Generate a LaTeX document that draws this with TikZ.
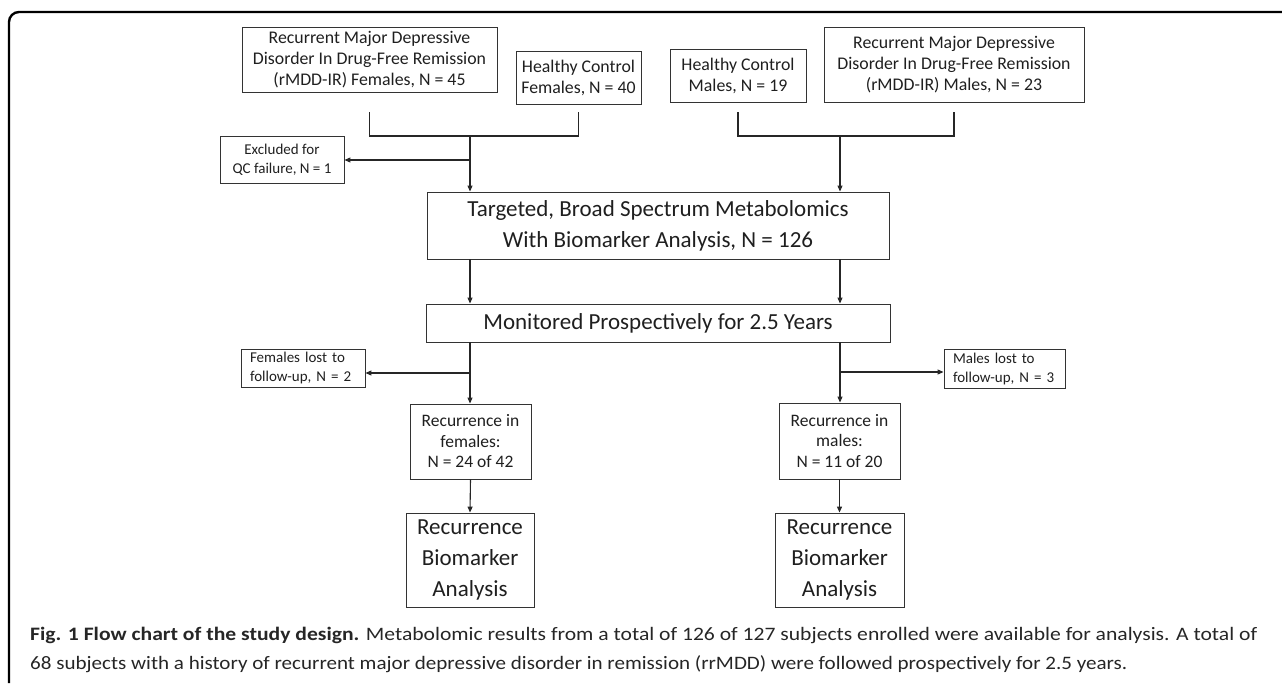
\documentclass[tikz,border=0pt]{standalone}
\usepackage{fontspec}
\usepackage{graphicx}
\setmainfont{Carlito}
\usetikzlibrary{arrows.meta}
\begin{document}
\begin{tikzpicture}[x=1pt,y=-1pt,
  box/.style={draw=black!80,line width=0.9pt,align=center,inner sep=0pt,text=black!88},
  mid/.style={box,font=\fontsize{17.8}{21}\selectfont},
  big/.style={box,font=\fontsize{23}{31}\selectfont},
  small/.style={box,font=\fontsize{15}{19}\selectfont},
  rec/.style={box,font=\fontsize{17.5}{20.5}\selectfont},
  conn/.style={draw=black!85,line width=1.1pt},
  arr/.style={conn,-{Triangle[length=6pt,width=5pt]}},
  captext/.style={anchor=west,inner sep=0pt,text=black!85,font=\fontsize{19}{21}\selectfont},
]
\useasboundingbox (0,0) rectangle (1282,685);
% frame
\draw[line width=2.4pt,rounded corners=10pt] (1290,12) -- (9,12) -- (9,683);

\node[mid,minimum width=255pt,minimum height=65pt] (rf) at (369.5,59.5)
  {Recurrent Major Depressive\\Disorder In Drug-Free Remission\\(rMDD-IR) Females, N = 45};
\node[mid,minimum width=125pt,minimum height=53pt] (hcf) at (578.5,77.5)
  {Healthy Control\\Females, N = 40};
\node[mid,minimum width=136pt,minimum height=53pt] (hcm) at (738,75.5)
  {Healthy Control\\Males, N = 19};
\node[mid,minimum width=260pt,minimum height=75pt] (rm) at (954,64.5)
  {Recurrent Major Depressive\\Disorder In Drug-Free Remission\\(rMDD-IR) Males, N = 23};

\node[small,minimum width=124pt,minimum height=47pt] (excl) at (282,159.5)
  {Excluded for\\QC failure, N = 1};
\node[big,minimum width=462pt,minimum height=67pt] (tgt) at (658,225.5)
  {Targeted, Broad Spectrum Metabolomics\\With Biomarker Analysis, N = 126};
\node[big,minimum width=464pt,minimum height=38pt] (mon) at (658,323)
  {Monitored Prospectively for 2.5 Years};
\node[small,align=left,text width=106pt,inner xsep=9pt,minimum width=124pt,minimum height=38pt] (flost) at (303,368)
  {Females lost to\\follow-up, N = 2};
\node[small,align=left,text width=103pt,inner xsep=9pt,minimum width=121pt,minimum height=39pt] (mlost) at (1004.5,369)
  {Males lost to\\follow-up, N = 3};
\node[rec,minimum width=121pt,minimum height=75pt] (recf) at (470.5,441.5)
  {Recurrence in\\females:\\N = 24 of 42};
\node[rec,minimum width=121pt,minimum height=76pt] (recm) at (839.5,441)
  {Recurrence in\\males:\\N = 11 of 20};
\node[big,minimum width=128pt,minimum height=94pt] (bf) at (470,560)
  {Recurrence\\Biomarker\\Analysis};
\node[big,minimum width=129pt,minimum height=94pt] (bm) at (839.5,560)
  {Recurrence\\Biomarker\\Analysis};

% junction points
\coordinate (fj) at (470,136);
\coordinate (mj) at (840,136);
\coordinate (fe) at (470,160);
\coordinate (fb) at (470,373);
\coordinate (mb) at (840,372);

% brackets
\draw[conn] (rf.south |- 0,112) -- (rf.south |- fj) -- (hcf.south |- fj) -- (hcf.south |- 0,112);
\draw[conn] (hcm.south |- 0,112) -- (hcm.south |- mj) -- (rm.south |- mj) -- (rm.south |- 0,112);
\draw[arr] (fj) -- (fj |- tgt.north);
\draw[arr] (mj) -- (mj |- tgt.north);
\draw[arr] (fe) -- (excl.east |- fe);
\draw[arr] (tgt.south -| fj) -- (mon.north -| fj);
\draw[arr] (tgt.south -| mj) -- (mon.north -| mj);
\draw[arr] (mon.south -| fj) -- (recf.north -| fj);
\draw[arr] (mon.south -| mj) -- (recm.north -| mj);
\draw[arr] (fb) -- (flost.east |- fb);
\draw[arr] (mb) -- (mlost.west |- mb);
\draw[arr] (recf.south) -- (bf.north);
\draw[arr] (recm.south) -- (bm.north);

% caption
\node[captext] (cap1) at (30,635)
  {\resizebox{1227pt}{\height}{\textbf{Fig. 1 Flow chart of the study design.} Metabolomic results from a total of 126 of 127 subjects enrolled were available for analysis. A total of}};
\node[captext] (cap2) at (30,664)
  {\resizebox{1097pt}{\height}{68 subjects with a history of recurrent major depressive disorder in remission (rrMDD) were followed prospectively for 2.5 years.}};
\end{tikzpicture}
\end{document}
